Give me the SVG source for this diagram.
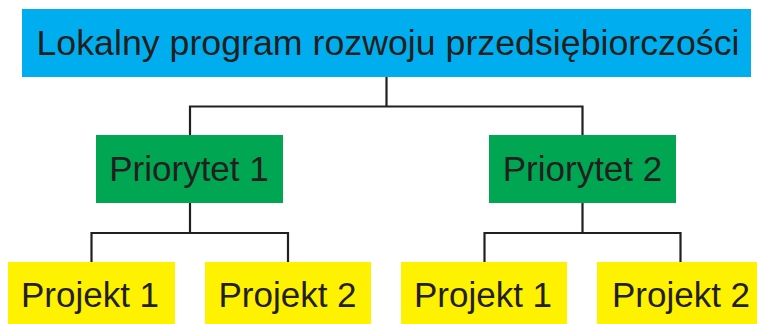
<svg xmlns="http://www.w3.org/2000/svg" width="757" height="324" viewBox="0 0 757 324">
<style>
.t{font-family:"Liberation Sans",Arial,sans-serif;fill:#231F20;text-anchor:middle;font-size:35px}
.top{fill:#00AEEF}
.pri{fill:#00A651}
.proj{fill:#FFF200}
.c{fill:none;stroke:#231F20;stroke-width:2.2}
</style>
<rect width="757" height="324" fill="#ffffff"/>
<g id="connectors">
<path class="c" d="M386.5 77V106.5M190 135V106.5H582.5V135"/>
<path class="c" d="M190 203V233M91.5 262V233H288V262"/>
<path class="c" d="M582.5 203V233M484.5 262V233H680.5V262"/>
</g>
<g id="root">
<rect class="top" x="22" y="9" width="729" height="68"/>
<text class="t" x="388" y="54.5" textLength="703" lengthAdjust="spacingAndGlyphs">Lokalny program rozwoju przedsiębiorczości</text>
</g>
<g id="priorytet1">
<rect class="pri" x="96" y="135" width="187" height="68"/>
<text class="t" x="189" y="181">Priorytet 1</text>
</g>
<g id="priorytet2">
<rect class="pri" x="489" y="135" width="187" height="68"/>
<text class="t" x="582.5" y="181">Priorytet 2</text>
</g>
<g id="p1projekt1">
<rect class="proj" x="8" y="262" width="167" height="62"/>
<text class="t" x="90" y="306.5">Projekt 1</text>
</g>
<g id="p1projekt2">
<rect class="proj" x="205" y="262" width="166" height="62"/>
<text class="t" x="287.5" y="306.5">Projekt 2</text>
</g>
<g id="p2projekt1">
<rect class="proj" x="401" y="262" width="166" height="62"/>
<text class="t" x="483" y="306.5">Projekt 1</text>
</g>
<g id="p2projekt2">
<rect class="proj" x="597" y="262" width="160" height="62"/>
<text class="t" x="681" y="306.5">Projekt 2</text>
</g>
</svg>
